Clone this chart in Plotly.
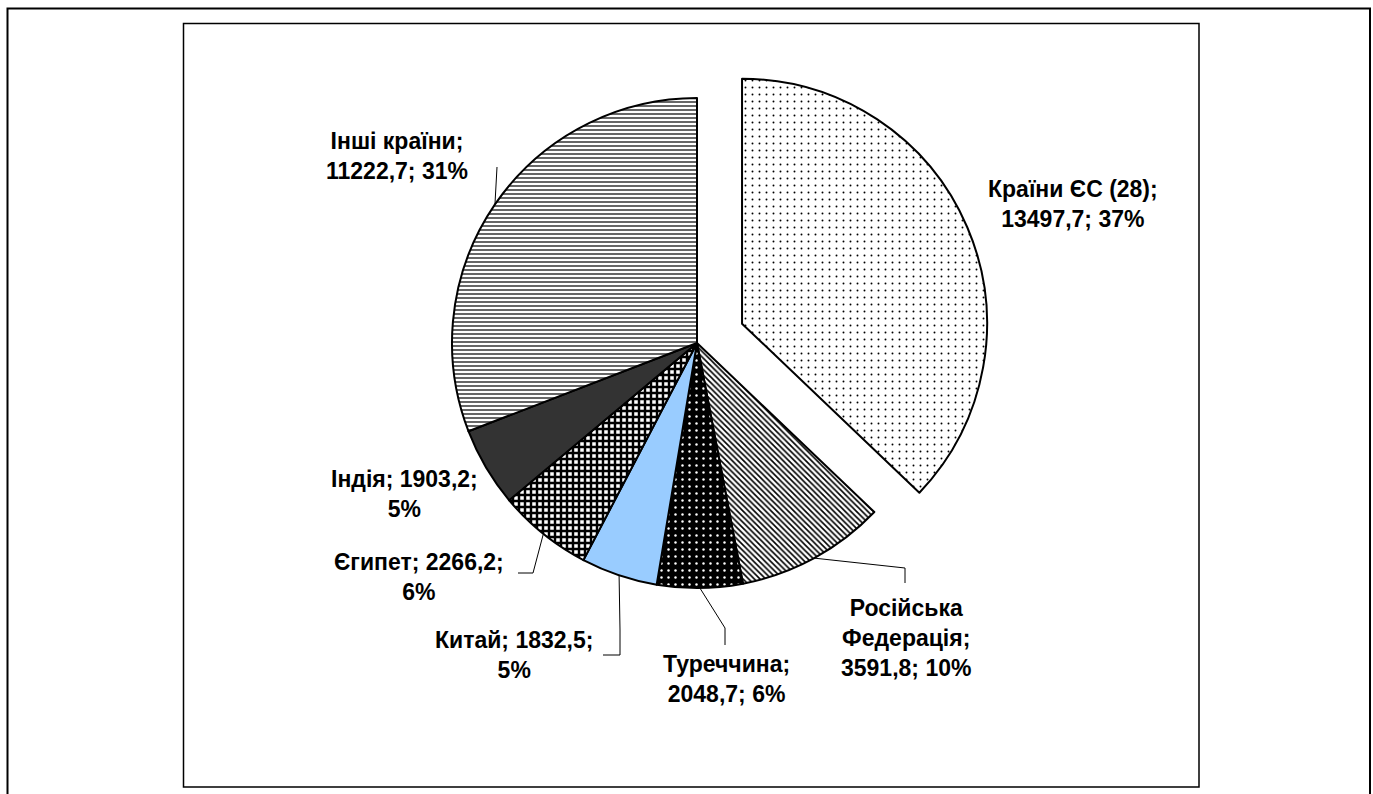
import math
import plotly.graph_objects as go

# ---- data ----
names = ["Країни ЄС (28)", "Російська Федерація", "Туреччина", "Китай", "Єгипет", "Індія", "Інші країни"]
values = [13497.7, 3591.8, 2048.7, 1832.5, 2266.2, 1903.2, 11222.7]
label_lines = [
    ["Країни ЄС (28);", "{v}; {p}%"],
    ["Російська", "Федерація;", "{v}; {p}%"],
    ["Туреччина;", "{v}; {p}%"],
    ["Китай; {v};", "{p}%"],
    ["Єгипет; {v};", "{p}%"],
    ["Індія; {v};", "{p}%"],
    ["Інші країни;", "{v}; {p}%"],
]

# ---- layout constants (pixels, in reference-image coordinates) ----
W, H = 1373, 794
CX, CY, R = 697, 343, 245
PULL = 0.2
FONT = "Liberation Sans, Arial, sans-serif"

def px(x):
    return x / W

def py(y):
    return 1 - y / H

half = R * (1 + PULL)
domain_x = [px(CX - half), px(CX + half)]
domain_y = [py(CY + half), py(CY - half)]

total = sum(values)
pcts = [round(v / total * 100) for v in values]

def fmt(v):
    return f"{v:.1f}".replace(".", ",")

texts = []
for lines, v, p in zip(label_lines, values, pcts):
    texts.append("<br>".join(l.format(v=fmt(v), p=p) for l in lines))

patterns = [
    dict(shape=".", fgcolor="black", bgcolor="white", size=7, solidity=0.06),
    dict(shape="\\", fgcolor="black", bgcolor="white", size=4, solidity=0.4),
    dict(shape=".", fgcolor="white", bgcolor="black", size=7, solidity=0.1),
    dict(shape="", fgcolor="black", bgcolor="#99CCFF"),
    dict(shape="+", fgcolor="black", bgcolor="white", size=6, solidity=0.65),
    dict(shape="", fgcolor="black", bgcolor="#333333"),
    dict(shape="-", fgcolor="black", bgcolor="white", size=4, solidity=0.3),
]
colors = ["white", "white", "black", "#99CCFF", "white", "#333333", "white"]

fig = go.Figure(go.Pie(
    labels=names,
    values=values,
    sort=False,
    direction="clockwise",
    rotation=0,
    pull=[PULL, 0, 0, 0, 0, 0, 0],
    textinfo="none",
    hoverinfo="label+value+percent",
    marker=dict(
        colors=colors,
        line=dict(color="black", width=2),
        pattern=dict(
            shape=[p["shape"] for p in patterns],
            fgcolor=[p["fgcolor"] for p in patterns],
            bgcolor=[p["bgcolor"] for p in patterns],
            size=[p.get("size", 6) for p in patterns],
            solidity=[p.get("solidity", 0.3) for p in patterns],
            fillmode="replace",
        ),
    ),
    domain=dict(x=domain_x, y=domain_y),
    showlegend=False,
))

# label positions (pixel centers of text blocks)
label_pos = [(1073, 204), (906, 638), (726, 679), (514, 655), (419, 577), (404, 494), (397, 156)]
annotations = []
for t, (x, y) in zip(texts, label_pos):
    annotations.append(dict(
        x=px(x), y=py(y), xref="paper", yref="paper", text=t, showarrow=False,
        xanchor="center", yanchor="middle", align="center",
        font=dict(family=FONT, size=23, color="black", weight="bold"),
    ))

# leader lines: start at slice mid-angle on the pie edge
leader_paths = {
    1: [(905, 568), (905, 583)],
    2: [(725, 628), (725, 645)],
    3: [(620, 630), (620, 655), (603, 655)],
    4: [(533, 573), (518, 573)],
    6: [(497, 167)],
}
cum = 0
mids = []
for v in values:
    mids.append((cum + v / 2) / total)
    cum += v

shapes = []
for i, pts in leader_paths.items():
    a = mids[i] * 2 * math.pi
    sx, sy = CX + R * math.sin(a), CY - R * math.cos(a)
    allp = [(sx, sy)] + pts
    path = "M " + " L ".join(f"{px(x)},{py(y)}" for x, y in allp)
    shapes.append(dict(type="path", path=path, xref="paper", yref="paper",
                       line=dict(color="black", width=1)))

# frames
shapes.append(dict(type="rect", xref="paper", yref="paper",
                   x0=px(7.5), x1=px(1370), y0=py(810), y1=py(8.5),
                   line=dict(color="black", width=2)))
shapes.append(dict(type="rect", xref="paper", yref="paper",
                   x0=px(183.5), x1=px(1199), y0=py(787), y1=py(23.5),
                   line=dict(color="black", width=1.5)))

fig.update_layout(
    width=W, height=H,
    margin=dict(l=0, r=0, t=0, b=0),
    paper_bgcolor="white",
    plot_bgcolor="white",
    annotations=annotations,
    shapes=shapes,
)

fig.write_html(
    "out.html",
    config={"displayModeBar": False},
    post_script="document.body.style.margin='0';document.body.style.overflow='hidden';",
)
